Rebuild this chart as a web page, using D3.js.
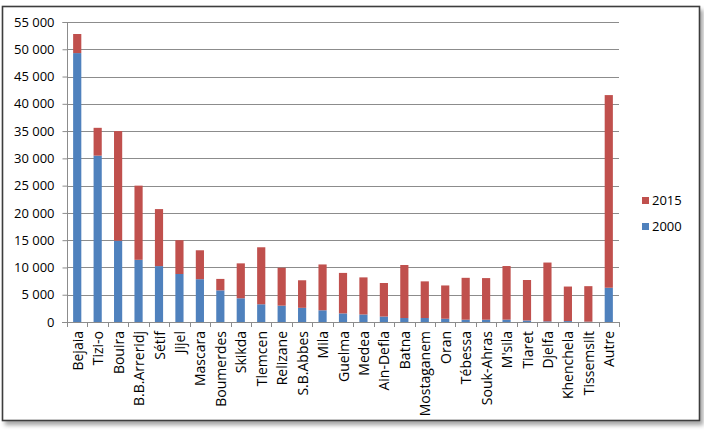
<!DOCTYPE html>
<html>
<head>
<meta charset="utf-8">
<script src="https://cdn.jsdelivr.net/npm/d3@7"></script>
<style>
  html, body { margin: 0; padding: 0; background: #fff; }
  svg { display: block; }
  text { font-family: "Open Sans", Lato, sans-serif; }
</style>
</head>
<body>
<script>
const categories = ["Bejaia","Tizi-o","Bouira","B.B.Arreridj","Sétif","Jijel","Mascara","Boumerdes","Skikda","Tlemcen","Relizane","S.B.Abbes","Mila","Guelma","Medea","Ain-Defla","Batna","Mostaganem","Oran","Tébessa","Souk-Ahras","M'sila","Tiaret","Djelfa","Khenchela","Tissemsilt","Autre"];
const values2000 = [49300,30500,14900,11400,10250,8800,7850,5800,4350,3250,3000,2600,2150,1580,1380,1000,730,730,600,420,420,430,280,120,170,60,6280];
const values2015 = [3500,5100,20100,13600,10450,6200,5300,2100,6400,10450,6950,5050,8400,7420,6800,6150,9720,6720,6100,7680,7630,9830,7420,10780,6330,6510,35320];
const yTicks = [0,5000,10000,15000,20000,25000,30000,35000,40000,45000,50000,55000];
const seriesNames = ["2015","2000"];

const W = 704, H = 437;
const FONT = "'Open Sans', Lato, sans-serif";
const svg = d3.select("body").append("svg").attr("width", W).attr("height", H);

const defs = svg.append("defs");
const f = defs.append("filter").attr("id","sh").attr("x","-5%").attr("y","-5%").attr("width","115%").attr("height","115%");
f.append("feGaussianBlur").attr("in","SourceAlpha").attr("stdDeviation",2).attr("result","b");
f.append("feOffset").attr("in","b").attr("dx",3).attr("dy",4).attr("result","o");
f.append("feComponentTransfer").attr("in","o").attr("result","o2").append("feFuncA").attr("type","linear").attr("slope",0.35);
const m = f.append("feMerge"); m.append("feMergeNode").attr("in","o2"); m.append("feMergeNode").attr("in","SourceGraphic");

svg.append("rect").attr("x",2.5).attr("y",6.5).attr("width",697).attr("height",414)
  .attr("fill","#fff").attr("stroke","#3c3c3c").attr("stroke-width",1.6).attr("filter","url(#sh)");

const x = d3.scaleBand().domain(categories).range([67, 619]).paddingInner(0.6).paddingOuter(0.3);
const y = d3.scaleLinear().domain([0, 55000]).range([322, 22]);

// gridlines
svg.append("g").selectAll("line").data(yTicks.filter(d => d > 0)).join("line")
  .attr("x1", 67).attr("x2", 619).attr("y1", d => Math.round(y(d)) + 0.5).attr("y2", d => Math.round(y(d)) + 0.5)
  .attr("stroke", "#8c8c8c").attr("stroke-width", 1);

// bars
const data = categories.map((c, i) => ({c, a: values2000[i], b: values2015[i]}));
const g = svg.append("g");
g.selectAll(".b2000").data(data).join("rect")
  .attr("x", d => x(d.c)).attr("width", x.bandwidth())
  .attr("y", d => y(d.a)).attr("height", d => y(0) - y(d.a)).attr("fill", "#4f81bd");
g.selectAll(".b2015").data(data).join("rect")
  .attr("x", d => x(d.c)).attr("width", x.bandwidth())
  .attr("y", d => y(d.a + d.b)).attr("height", d => y(d.a) - y(d.a + d.b)).attr("fill", "#c0504d");

// y axis
const yAxis = d3.axisLeft(y).tickValues(yTicks).tickSize(5).tickPadding(8)
  .tickFormat(d => d3.format(",")(d).replace(/,/g, " "));
const ya = svg.append("g").attr("transform", "translate(67.5,0)").call(yAxis);
ya.select(".domain").attr("stroke", "#8c8c8c").attr("d", "M-5,22.5H0V322.5H-5");
ya.selectAll(".tick line").attr("stroke", "#8c8c8c");
ya.selectAll(".tick text").attr("font-size", 13).attr("fill", "#000").attr("font-family", FONT);

// x axis
const step = x.step();
const bounds = d3.range(categories.length + 1).map(i => 67 + i * step);
svg.append("line").attr("x1", 62).attr("x2", 619).attr("y1", 322.5).attr("y2", 322.5).attr("stroke", "#8c8c8c");
svg.append("g").selectAll("line").data(bounds).join("line")
  .attr("x1", d => Math.round(d) + 0.5).attr("x2", d => Math.round(d) + 0.5)
  .attr("y1", 322).attr("y2", 327).attr("stroke", "#8c8c8c");
svg.append("g").selectAll("text").data(categories).join("text")
  .attr("transform", d => `translate(${x(d) + x.bandwidth() / 2 + 5.5},331) rotate(-90)`)
  .attr("text-anchor", "end").attr("font-size", 14).attr("fill", "#000").attr("font-family", FONT)
  .text(d => d);

// legend
const colors = {"2015": "#c0504d", "2000": "#4f81bd"};
const lg = svg.append("g").selectAll("g").data(seriesNames).join("g")
  .attr("transform", (d, i) => `translate(642,${197 + i * 26})`);
lg.append("rect").attr("width", 7).attr("height", 7).attr("fill", d => colors[d]);
lg.append("text").attr("x", 10).attr("y", 8).attr("font-size", 13).attr("fill", "#000").attr("font-family", FONT).text(d => d);
</script>
</body>
</html>
